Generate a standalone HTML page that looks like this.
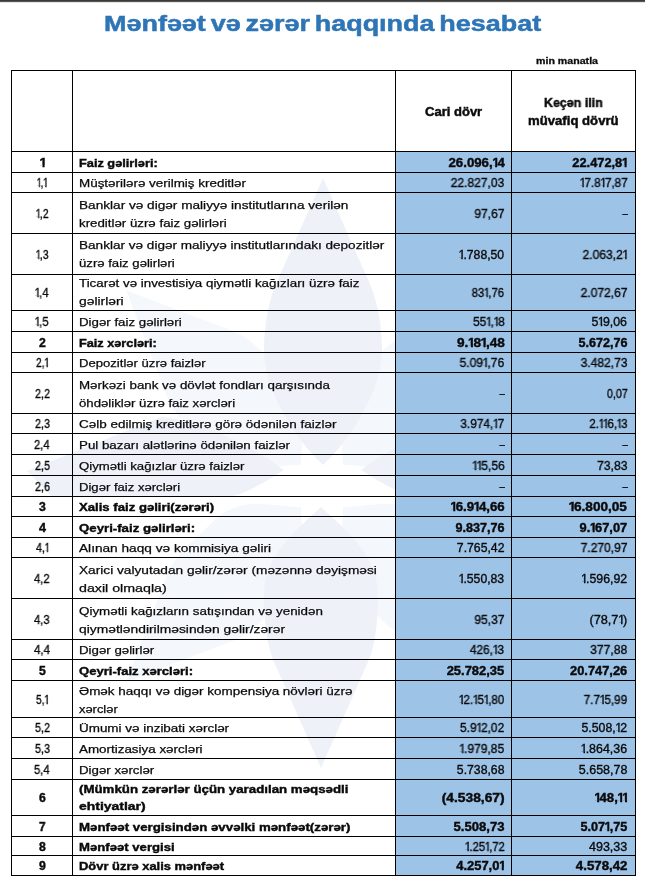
<!DOCTYPE html>
<html lang="az"><head><meta charset="utf-8"><title>Mənfəət və zərər haqqında hesabat</title>
<style>
html,body{margin:0;padding:0;background:#fff;}
body{width:645px;height:882px;position:relative;overflow:hidden;font-family:"Liberation Sans",sans-serif;color:#0a0a0c;}
.a{position:absolute;will-change:transform;}
.hl{position:absolute;left:11px;width:625px;height:1px;background:#000;}
.vl{position:absolute;top:70px;width:1px;height:806px;background:#000;}
.c{position:absolute;will-change:transform;-webkit-text-stroke:0.25px #0a0a0c;font-size:11px;line-height:12px;height:12px;white-space:nowrap;display:block;width:max-content;}
.t{left:79.2px;transform-origin:0 50%;}
.n{transform-origin:0 50%;font-size:12.2px;}
.v1{right:140.5px;transform-origin:100% 50%;font-size:12.2px;}
.v2{right:17.6px;transform-origin:100% 50%;font-size:12.2px;}
.c i{font-style:normal;display:inline-block;width:0.37em;height:12px;text-indent:-0.04em;vertical-align:baseline;clip-path:polygon(0 0,100% 0,100% 8.7px,85% 8.7px,85% 100%,55% 100%,55% 8.7px,0 8.7px);}
.b i{clip-path:polygon(0 0,100% 0,100% 8.3px,92% 8.3px,92% 100%,50% 100%,50% 8.3px,0 8.3px);}
.n,.v1,.v2{-webkit-text-stroke:0.35px #0a0a0c;}
.b{font-weight:bold;-webkit-text-stroke:0.4px #0a0a0c;}
</style></head><body>

<div class="a" style="left:0;top:0;width:645px;height:1px;background:#3a3a3a"></div>
<div class="a" style="left:0;top:1px;width:645px;height:1px;background:#555"></div>
<div class="a" style="left:0;top:2px;width:645px;height:1px;background:#e4e4e4"></div>
<svg class="a" style="left:0;top:0" width="645" height="882" viewBox="0 0 645 882">
<path transform="translate(322,486) rotate(45)" d="M0,-277 L47,-171 C55,-152 52,-129 52,-105 C52,-65 27,-55 0,-30 C-27,-55 -52,-65 -52,-105 C-52,-129 -55,-152 -47,-171 Z" fill="#f4f7fb"/>
<path transform="translate(322,486) rotate(135)" d="M0,-277 L47,-171 C55,-152 52,-129 52,-105 C52,-65 27,-55 0,-30 C-27,-55 -52,-65 -52,-105 C-52,-129 -55,-152 -47,-171 Z" fill="#f4f7fb"/>
<path transform="translate(322,486) rotate(225)" d="M0,-277 L47,-171 C55,-152 52,-129 52,-105 C52,-65 27,-55 0,-30 C-27,-55 -52,-65 -52,-105 C-52,-129 -55,-152 -47,-171 Z" fill="#f4f7fb"/>
<path transform="translate(322,486) rotate(315)" d="M0,-277 L47,-171 C55,-152 52,-129 52,-105 C52,-65 27,-55 0,-30 C-27,-55 -52,-65 -52,-105 C-52,-129 -55,-152 -47,-171 Z" fill="#f4f7fb"/>
<path transform="translate(323,486)" d="M0,-308 L47,-202 C55,-183 59,-160 59,-136 C59,-96 27,-46 0,-21 C-27,-46 -59,-96 -59,-136 C-59,-160 -55,-183 -47,-202 Z" fill="#eef2f8"/>
<path transform="translate(321,486) rotate(180)" d="M0,-282 L47,-176 C55,-157 57,-134 57,-110 C57,-70 27,-46 0,-21 C-27,-46 -57,-70 -57,-110 C-57,-134 -55,-157 -47,-176 Z" fill="#eef2f8"/>
<path d="M27,471 L161,417 C200,420 250,445 284,470 C262,484 240,497 225,497 L52,497 Z" fill="#eef2f8"/>
<path transform="translate(645,0) scale(-1,1)" d="M27,471 L161,417 C200,420 250,445 284,470 C262,484 240,497 225,497 L52,497 Z" fill="#eef2f8"/>
</svg>
<div class="a" style="left:396px;top:152px;width:239px;height:723px;background:#9dc3e6"></div>
<div class="a" style="left:104.4px;top:9px;font-weight:bold;font-size:22.3px;line-height:30px;color:#2e75b6;-webkit-text-stroke:0.5px #2e75b6;word-spacing:-2.2px;white-space:nowrap;transform-origin:0 50%;transform:scaleX(1.2087)">Mənfəət və zərər haqqında hesabat</div>
<div class="a" style="left:535.5px;top:55px;font-weight:bold;font-size:9.2px;line-height:12px;-webkit-text-stroke:0.3px #111;white-space:nowrap;transform-origin:0 50%;transform:scaleX(1.1565)">min manatla</div>
<div class="a" style="left:424.8px;top:105.2px;font-weight:bold;font-size:13px;line-height:14px;-webkit-text-stroke:0.5px #111;white-space:nowrap;transform-origin:0 50%;transform:scaleX(1.0021)">Cari dövr</div>
<div class="a" style="left:543.8px;top:95.5px;font-weight:bold;font-size:13px;line-height:14px;-webkit-text-stroke:0.5px #111;white-space:nowrap;transform-origin:0 50%;transform:scaleX(0.9573)">Keçən ilin</div>
<div class="a" style="left:527.9px;top:113.5px;font-weight:bold;font-size:13px;line-height:14px;-webkit-text-stroke:0.5px #111;white-space:nowrap;transform-origin:0 50%;transform:scaleX(1.0114)">müvafiq dövrü</div>
<span class="c n b" style="top:157.0px;left:39.5px;transform:scaleX(1.1111)"><i>1</i></span><span class="c t b" style="top:157.2px;transform:scaleX(1.1598)">Faiz gəlirləri:</span><span class="c v1 b" style="top:157.0px;transform:scaleX(1.0875)">26.096,<i>1</i>4</span><span class="c v2 b" style="top:157.0px;transform:scaleX(1.0509)">22.472,8<i>1</i></span>
<span class="c n" style="top:177.0px;left:37.0px;transform:scaleX(0.8071)"><i>1</i>,<i>1</i></span><span class="c t" style="top:177.2px;transform:scaleX(1.2197)">Müştərilərə verilmiş kreditlər</span><span class="c v1" style="top:177.0px;transform:scaleX(0.9865)">22.827,03</span><span class="c v2" style="top:177.0px;transform:scaleX(0.958)"><i>1</i>7.8<i>1</i>7,87</span>
<span class="c n" style="top:208.0px;left:35.8px;transform:scaleX(0.852)"><i>1</i>,2</span><span class="c t" style="top:199.2px;transform:scaleX(1.2377)">Banklar və digər maliyyə institutlarına verilən</span><span class="c t" style="top:217.2px;transform:scaleX(1.2072)">kreditlər üzrə faiz gəlirləri</span><span class="c v1" style="top:208.0px;transform:scaleX(0.9869)">97,67</span><span class="c v2" style="top:208.0px;transform:scaleX(0.7963)">–</span>
<span class="c n" style="top:249.0px;left:35.8px;transform:scaleX(0.852)"><i>1</i>,3</span><span class="c t" style="top:239.2px;transform:scaleX(1.2329)">Banklar və digər maliyyə institutlarındakı depozitlər</span><span class="c t" style="top:257.2px;transform:scaleX(1.1948)">üzrə faiz gəlirləri</span><span class="c v1" style="top:249.0px;transform:scaleX(1.0028)"><i>1</i>.788,50</span><span class="c v2" style="top:249.0px;transform:scaleX(0.9873)">2.063,2<i>1</i></span>
<span class="c n" style="top:287.0px;left:35.2px;transform:scaleX(0.9201)"><i>1</i>,4</span><span class="c t" style="top:277.2px;transform:scaleX(1.2124)">Ticarət və investisiya qiymətli kağızları üzrə faiz</span><span class="c t" style="top:295.2px;transform:scaleX(1.2603)">gəlirləri</span><span class="c v1" style="top:287.0px;transform:scaleX(0.9224)">83<i>1</i>,76</span><span class="c v2" style="top:287.0px;transform:scaleX(0.9862)">2.072,67</span>
<span class="c n" style="top:316.0px;left:35.2px;transform:scaleX(0.9201)"><i>1</i>,5</span><span class="c t" style="top:316.2px;transform:scaleX(1.2073)">Digər faiz gəlirləri</span><span class="c v1" style="top:316.0px;transform:scaleX(0.9653)">55<i>1</i>,<i>1</i>8</span><span class="c v2" style="top:316.0px;transform:scaleX(1.0167)">5<i>1</i>9,06</span>
<span class="c n b" style="top:337.0px;left:38.6px;transform:scaleX(1.0028)">2</span><span class="c t b" style="top:337.2px;transform:scaleX(1.1551)">Faiz xərcləri:</span><span class="c v1 b" style="top:337.0px;transform:scaleX(1.1164)">9.<i>1</i>8<i>1</i>,48</span><span class="c v2 b" style="top:337.0px;transform:scaleX(1.0326)">5.672,76</span>
<span class="c n" style="top:357.0px;left:35.9px;transform:scaleX(0.8383)">2,<i>1</i></span><span class="c t" style="top:357.2px;transform:scaleX(1.1901)">Depozitlər üzrə faizlər</span><span class="c v1" style="top:357.0px;transform:scaleX(0.987)">5.09<i>1</i>,76</span><span class="c v2" style="top:357.0px;transform:scaleX(0.9862)">3.482,73</span>
<span class="c n" style="top:388.0px;left:34.5px;transform:scaleX(0.8848)">2,2</span><span class="c t" style="top:379.2px;transform:scaleX(1.214)">Mərkəzi bank və dövlət fondları qarşısında</span><span class="c t" style="top:397.2px;transform:scaleX(1.1988)">öhdəliklər üzrə faiz xərcləri</span><span class="c v1" style="top:388.0px;transform:scaleX(0.7963)">–</span><span class="c v2" style="top:388.0px;transform:scaleX(0.8764)">0,07</span>
<span class="c n" style="top:418.0px;left:34.5px;transform:scaleX(0.8848)">2,3</span><span class="c t" style="top:418.2px;transform:scaleX(1.2238)">Cəlb edilmiş kreditlərə görə ödənilən faizlər</span><span class="c v1" style="top:418.0px;transform:scaleX(0.9696)">3.974,<i>1</i>7</span><span class="c v2" style="top:418.0px;transform:scaleX(0.9428)">2.<i>1</i><i>1</i>6,<i>1</i>3</span>
<span class="c n" style="top:439.0px;left:34.2px;transform:scaleX(0.9143)">2,4</span><span class="c t" style="top:439.2px;transform:scaleX(1.2107)">Pul bazarı alətlərinə ödənilən faizlər</span><span class="c v1" style="top:439.0px;transform:scaleX(0.7963)">–</span><span class="c v2" style="top:439.0px;transform:scaleX(0.7963)">–</span>
<span class="c n" style="top:460.0px;left:34.5px;transform:scaleX(0.8848)">2,5</span><span class="c t" style="top:460.2px;transform:scaleX(1.1979)">Qiymətli kağızlar üzrə faizlər</span><span class="c v1" style="top:460.0px;transform:scaleX(0.9867)"><i>1</i><i>1</i>5,56</span><span class="c v2" style="top:460.0px;transform:scaleX(0.9967)">73,83</span>
<span class="c n" style="top:481.0px;left:34.5px;transform:scaleX(0.8848)">2,6</span><span class="c t" style="top:481.2px;transform:scaleX(1.1898)">Digər faiz xərcləri</span><span class="c v1" style="top:481.0px;transform:scaleX(0.7963)">–</span><span class="c v2" style="top:481.0px;transform:scaleX(0.7963)">–</span>
<span class="c n b" style="top:501.0px;left:38.6px;transform:scaleX(1.0028)">3</span><span class="c t b" style="top:501.2px;transform:scaleX(1.1944)">Xalis faiz gəliri(zərəri)</span><span class="c v1 b" style="top:501.0px;transform:scaleX(1.0848)"><i>1</i>6.9<i>1</i>4,66</span><span class="c v2 b" style="top:501.0px;transform:scaleX(1.1164)"><i>1</i>6.800,05</span>
<span class="c n b" style="top:522.0px;left:38.5px;transform:scaleX(1.0323)">4</span><span class="c t b" style="top:522.2px;transform:scaleX(1.2019)">Qeyri-faiz gəlirləri:</span><span class="c v1 b" style="top:522.0px;transform:scaleX(1.0326)">9.837,76</span><span class="c v2 b" style="top:522.0px;transform:scaleX(1.0538)">9.<i>1</i>67,07</span>
<span class="c n" style="top:542.0px;left:35.6px;transform:scaleX(0.8724)">4,<i>1</i></span><span class="c t" style="top:542.2px;transform:scaleX(1.2412)">Alınan haqq və kommisiya gəliri</span><span class="c v1" style="top:542.0px;transform:scaleX(1.0031)">7.765,42</span><span class="c v2" style="top:542.0px;transform:scaleX(0.9862)">7.270,97</span>
<span class="c n" style="top:573.0px;left:34.2px;transform:scaleX(0.9143)">4,2</span><span class="c t" style="top:564.2px;transform:scaleX(1.2425)">Xarici valyutadan gəlir/zərər (məzənnə dəyişməsi</span><span class="c t" style="top:582.2px;transform:scaleX(1.2921)">daxil olmaqla)</span><span class="c v1" style="top:573.0px;transform:scaleX(1.0028)"><i>1</i>.550,83</span><span class="c v2" style="top:573.0px;transform:scaleX(1.0117)"><i>1</i>.596,92</span>
<span class="c n" style="top:614.0px;left:34.2px;transform:scaleX(0.9143)">4,3</span><span class="c t" style="top:605.2px;transform:scaleX(1.2162)">Qiymətli kağızların satışından və yenidən</span><span class="c t" style="top:623.2px;transform:scaleX(1.2572)">qiymətləndirilməsindən gəlir/zərər</span><span class="c v1" style="top:614.0px;transform:scaleX(0.9869)">95,37</span><span class="c v2" style="top:614.0px;transform:scaleX(1.0428)">(78,7<i>1</i>)</span>
<span class="c n" style="top:644.0px;left:34.0px;transform:scaleX(0.9438)">4,4</span><span class="c t" style="top:644.2px;transform:scaleX(1.2059)">Digər gəlirlər</span><span class="c v1" style="top:644.0px;transform:scaleX(0.9767)">426,<i>1</i>3</span><span class="c v2" style="top:644.0px;transform:scaleX(0.9951)">377,88</span>
<span class="c n b" style="top:665.0px;left:38.6px;transform:scaleX(1.0028)">5</span><span class="c t b" style="top:665.2px;transform:scaleX(1.1885)">Qeyri-faiz xərcləri:</span><span class="c v1 b" style="top:665.0px;transform:scaleX(1.0621)">25.782,35</span><span class="c v2 b" style="top:665.0px;transform:scaleX(1.0547)">20.747,26</span>
<span class="c n" style="top:694.0px;left:35.9px;transform:scaleX(0.8383)">5,<i>1</i></span><span class="c t" style="top:685.2px;transform:scaleX(1.2233)">Əmək haqqı və digər kompensiya növləri üzrə</span><span class="c t" style="top:703.2px;transform:scaleX(1.1722)">xərclər</span><span class="c v1" style="top:694.0px;transform:scaleX(0.9556)"><i>1</i>2.<i>1</i>5<i>1</i>,80</span><span class="c v2" style="top:694.0px;transform:scaleX(0.9627)">7.7<i>1</i>5,99</span>
<span class="c n" style="top:722.0px;left:34.5px;transform:scaleX(0.8848)">5,2</span><span class="c t" style="top:722.2px;transform:scaleX(1.2216)">Ümumi və inzibati xərclər</span><span class="c v1" style="top:722.0px;transform:scaleX(0.9781)">5.9<i>1</i>2,02</span><span class="c v2" style="top:722.0px;transform:scaleX(1.0117)">5.508,<i>1</i>2</span>
<span class="c n" style="top:743.0px;left:34.5px;transform:scaleX(0.8848)">5,3</span><span class="c t" style="top:743.2px;transform:scaleX(1.2181)">Amortizasiya xərcləri</span><span class="c v1" style="top:743.0px;transform:scaleX(0.9873)"><i>1</i>.979,85</span><span class="c v2" style="top:743.0px;transform:scaleX(1.0205)"><i>1</i>.864,36</span>
<span class="c n" style="top:764.0px;left:34.2px;transform:scaleX(0.9143)">5,4</span><span class="c t" style="top:764.2px;transform:scaleX(1.2059)">Digər xərclər</span><span class="c v1" style="top:764.0px;transform:scaleX(1.0031)">5.738,68</span><span class="c v2" style="top:764.0px;transform:scaleX(1.0263)">5.658,78</span>
<span class="c n b" style="top:792.0px;left:38.6px;transform:scaleX(1.0028)">6</span><span class="c t b" style="top:783.2px;transform:scaleX(1.2074)">(Mümkün zərərlər üçün yaradılan məqsədli</span><span class="c t b" style="top:800.2px;transform:scaleX(1.2686)">ehtiyatlar)</span><span class="c v1 b" style="top:792.0px;transform:scaleX(1.1303)">(4.538,67)</span><span class="c v2 b" style="top:792.0px;transform:scaleX(1.0738)"><i>1</i>48,<i>1</i><i>1</i></span>
<span class="c n b" style="top:821.0px;left:38.8px;transform:scaleX(0.9585)">7</span><span class="c t b" style="top:821.2px;transform:scaleX(1.2063)">Mənfəət vergisindən əvvəlki mənfəət(zərər)</span><span class="c v1 b" style="top:821.0px;transform:scaleX(1.0726)">5.508,73</span><span class="c v2 b" style="top:821.0px;transform:scaleX(1.0357)">5.07<i>1</i>,75</span>
<span class="c n b" style="top:841.0px;left:38.6px;transform:scaleX(1.0028)">8</span><span class="c t b" style="top:841.2px;transform:scaleX(1.1948)">Mənfəət vergisi</span><span class="c v1" style="top:841.0px;transform:scaleX(0.9253)"><i>1</i>.25<i>1</i>,72</span><span class="c v2" style="top:841.0px;transform:scaleX(1.0273)">493,33</span>
<span class="c n b" style="top:860.0px;left:38.6px;transform:scaleX(1.0028)">9</span><span class="c t b" style="top:860.2px;transform:scaleX(1.1749)">Dövr üzrə xalis mənfəət</span><span class="c v1 b" style="top:860.0px;transform:scaleX(1.0604)">4.257,0<i>1</i></span><span class="c v2 b" style="top:860.0px;transform:scaleX(1.0874)">4.578,42</span>
<div class="hl" style="top:70px"></div>
<div class="hl" style="top:151px"></div>
<div class="hl" style="top:172px"></div>
<div class="hl" style="top:192px"></div>
<div class="hl" style="top:233px"></div>
<div class="hl" style="top:274px"></div>
<div class="hl" style="top:310px"></div>
<div class="hl" style="top:331px"></div>
<div class="hl" style="top:352px"></div>
<div class="hl" style="top:372px"></div>
<div class="hl" style="top:413px"></div>
<div class="hl" style="top:433px"></div>
<div class="hl" style="top:454px"></div>
<div class="hl" style="top:475px"></div>
<div class="hl" style="top:496px"></div>
<div class="hl" style="top:516px"></div>
<div class="hl" style="top:537px"></div>
<div class="hl" style="top:557px"></div>
<div class="hl" style="top:598px"></div>
<div class="hl" style="top:639px"></div>
<div class="hl" style="top:659px"></div>
<div class="hl" style="top:680px"></div>
<div class="hl" style="top:717px"></div>
<div class="hl" style="top:737px"></div>
<div class="hl" style="top:758px"></div>
<div class="hl" style="top:779px"></div>
<div class="hl" style="top:815px"></div>
<div class="hl" style="top:836px"></div>
<div class="hl" style="top:855px"></div>
<div class="hl" style="top:875px"></div>
<div class="vl" style="left:11px"></div>
<div class="vl" style="left:72px"></div>
<div class="vl" style="left:395px"></div>
<div class="vl" style="left:511px"></div>
<div class="vl" style="left:635px"></div>
</body></html>
